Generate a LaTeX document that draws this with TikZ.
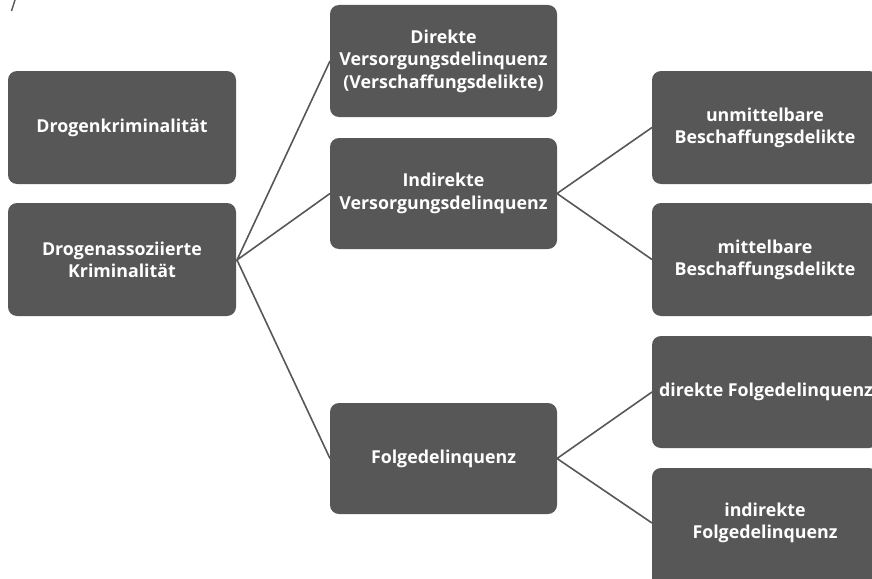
\documentclass[tikz,border=0pt]{standalone}
\usepackage{fontspec}
\setmainfont{Open Sans}
\definecolor{boxgray}{HTML}{575757}
\begin{document}
\begin{tikzpicture}[x=1pt,y=-1pt,
  box/.style={fill=boxgray, rounded corners=9pt, draw=none},
  lbl/.style={text=white, font=\fontsize{17.8}{22.5}\selectfont\bfseries, align=center, inner sep=0pt},
  conn/.style={draw=boxgray, line width=1.6pt}]
\useasboundingbox (0,0) rectangle (872,578);
\clip (0,0) rectangle (872,578);
% column 1
\path[box] (8,71) rectangle (236,184);
\node[lbl] (dk) at (122,128) {Drogenkriminalität};
\path[box] (8,203) rectangle (236,316);
\node[lbl] (da) at (122,260) {Drogenassoziierte\\Kriminalität};
% column 2
\path[box] (330,5) rectangle (557,117);
\node[lbl] (dv) at (443.5,61) {Direkte\\Versorgungsdelinquenz\\(Verschaffungsdelikte)};
\path[box] (330,138) rectangle (557,249);
\node[lbl] (iv) at (443.5,193.5) {Indirekte\\Versorgungsdelinquenz};
\path[box] (330,403) rectangle (557,514);
\node[lbl] (fd) at (443.5,458.5) {Folgedelinquenz};
% column 3
\path[box] (652,71) rectangle (878,184);
\node[lbl] (ub) at (765,128) {unmittelbare\\Beschaffungsdelikte};
\path[box] (652,203) rectangle (878,316);
\node[lbl] (mb) at (765,260) {mittelbare\\Beschaffungsdelikte};
\path[box] (652,336) rectangle (878,448);
\node[lbl] (df) at (766,392) {direkte Folgedelinquenz};
\path[box] (652,468) rectangle (878,590);
\node[lbl] (if) at (765,523) {indirekte\\Folgedelinquenz};
% anchor points
\coordinate (daR) at (237,260);
\coordinate (dvL) at (330,61);
\coordinate (ivL) at (330,193.5);
\coordinate (fdL) at (330,458.5);
\coordinate (ivR) at (557,193.5);
\coordinate (fdR) at (557,458.5);
\coordinate (ubL) at (652,127.5);
\coordinate (mbL) at (652,259.5);
\coordinate (dfL) at (652,392);
\coordinate (ifL) at (652,523);
\draw[conn] (dvL) -- (daR) -- (ivL);
\draw[conn] (daR) -- (fdL);
\draw[conn] (ubL) -- (ivR) -- (mbL);
\draw[conn] (dfL) -- (fdR) -- (ifL);
% stray fragment at top-left
\coordinate (fa) at (11.5,11);
\coordinate (fb) at (15,0);
\draw[conn, line width=1.4pt] (fa) -- (fb);
\end{tikzpicture}
\end{document}
